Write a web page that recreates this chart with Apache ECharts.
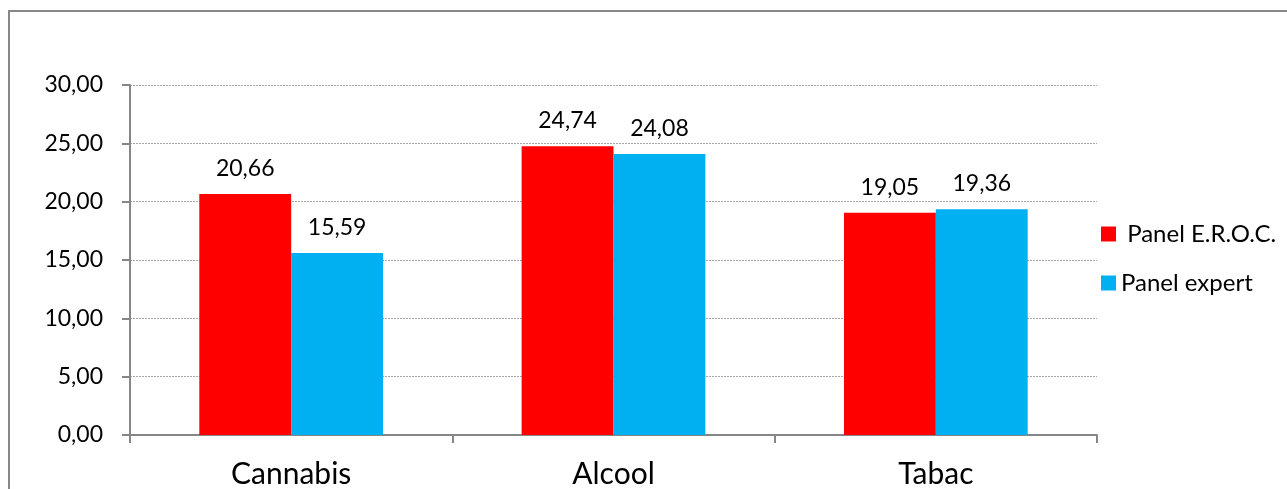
<!DOCTYPE html>
<html>
<head>
<meta charset="utf-8">
<script src="https://cdn.jsdelivr.net/npm/echarts@6/dist/echarts.min.js"></script>
<style>
  html, body { margin: 0; padding: 0; background: #fff; }
  #main { width: 1287px; height: 489px; }
</style>
</head>
<body>
<div id="main"></div>
<script>
// données
const categories = ['Cannabis', 'Alcool', 'Tabac'];
const panelEroc = [20.66, 24.74, 19.05];
const panelExpert = [15.59, 24.08, 19.36];
const yTicks = { min: 0, max: 30, interval: 5 };

const fr = v => v.toFixed(2).replace('.', ',');
const font = 'Lato, "Open Sans", sans-serif';

let myChart = echarts.init(document.getElementById('main'));

let option = {
  animation: false,
  backgroundColor: '#fff',
  textStyle: { fontFamily: font },
  graphic: [{
    type: 'rect',
    shape: { x: 9, y: 11, width: 1300, height: 520 },
    style: { fill: 'none', stroke: '#878787', lineWidth: 2 },
    silent: true
  }],
  legend: {
    orient: 'vertical',
    left: 1096,
    top: 217,
    itemWidth: 15,
    itemHeight: 15,
    itemGap: 25,
    icon: 'rect',
    formatter: name => name === 'Panel E.R.O.C.' ? ' ' + name : name,
    textStyle: { fontSize: 24, color: '#000', fontFamily: font }
  },
  grid: { left: 130, right: 190, top: 85, bottom: 52 },
  xAxis: {
    type: 'category',
    data: categories,
    axisLine: { lineStyle: { color: '#868686', width: 2 } },
    axisTick: { show: true, length: 8, lineStyle: { color: '#868686', width: 2 } },
    axisLabel: { fontSize: 30, color: '#000', margin: 24, fontFamily: font }
  },
  yAxis: {
    type: 'value',
    min: yTicks.min,
    max: yTicks.max,
    interval: yTicks.interval,
    axisLine: { show: true, lineStyle: { color: '#868686', width: 2 } },
    axisTick: { show: true, length: 8, lineStyle: { color: '#868686', width: 2 } },
    axisLabel: { fontSize: 23, color: '#000', margin: 27, formatter: fr, fontFamily: font },
    splitLine: { show: true, lineStyle: { color: '#a6a6a6', type: [2, 1], width: 1 } }
  },
  series: [
    {
      name: 'Panel E.R.O.C.',
      type: 'bar',
      data: panelEroc,
      barGap: '0%',
      barCategoryGap: '43%',
      itemStyle: { color: '#ff0000' },
      label: { show: true, position: 'top', distance: 14, fontSize: 23, color: '#000', formatter: p => fr(p.value), fontFamily: font }
    },
    {
      name: 'Panel expert',
      type: 'bar',
      data: panelExpert,
      itemStyle: { color: '#00b0f0' },
      label: { show: true, position: 'top', distance: 14, fontSize: 23, color: '#000', formatter: p => fr(p.value), fontFamily: font }
    }
  ]
};

myChart.setOption(option);
</script>
</body>
</html>
